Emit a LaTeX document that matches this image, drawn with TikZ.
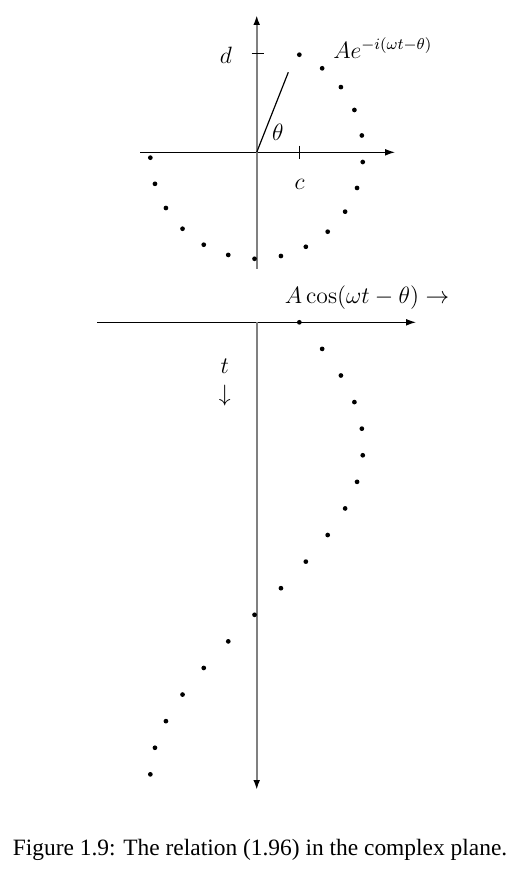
\documentclass[12pt,tikz,border=0pt]{standalone}
\usepackage{fontspec}
\newfontfamily\capfont{Liberation Serif}
\usetikzlibrary{arrows.meta}
\begin{document}
\begin{tikzpicture}[x=0.508pt,y=-0.508pt,
  haxis/.style={line width=0.6pt,-{Latex[length=5pt,width=3.4pt]}},
  vaxis/.style={line width=1pt,draw=black!50,-{Latex[length=5pt,width=3.4pt,color=black]}},
  tick/.style={line width=0.5pt},
  dotnode/.style={circle,fill=black,inner sep=0pt,minimum size=2.4pt},
  lbl/.style={inner sep=0pt}]
\useasboundingbox (0,0) rectangle (520,890);
% ---------- top: complex plane ----------
\coordinate (O1) at (256.7,152.3);
\coordinate (hL1) at (140,152.3);
\coordinate (hR1) at (395,152.3);
\coordinate (vB1) at (256.7,268.5);
\coordinate (vT1) at (256.7,15);
\draw[haxis] (hL1) -- (hR1);
\draw[vaxis] (vB1) -- (vT1);
\coordinate (ct1) at (299.3,145.7);
\coordinate (ct2) at (299.3,158.5);
\draw[tick] (ct1) -- (ct2);
\coordinate (dt1) at (251.5,53.3);
\coordinate (dt2) at (263.5,53.3);
\draw[tick] (dt1) -- (dt2);
\coordinate (Lend) at (288.3,72.3);
\draw[line width=0.6pt] (O1) -- (Lend);
\node[lbl] (dlab) at (226,55.5) {$d$};
\node[lbl] (clab) at (299.5,184.7) {$c$};
\node[lbl] (thlab) at (277.8,132.5) {$\theta$};
\node[lbl,anchor=base west] (elab) at (333,58.3) {$Ae^{-i(\omega t-\theta)}$};
\foreach \k in {0,...,17}{
  \pgfmathsetmacro{\a}{66.4-14.324*\k}
  \node[dotnode] (c\k) at ({256.7+106.5*cos(\a)},{152.3-106.5*sin(\a)}) {};
}
% ---------- bottom: time plot ----------
\coordinate (O2) at (256.7,322.3);
\coordinate (hL2) at (97.3,322.3);
\coordinate (hR2) at (416,322.3);
\coordinate (vB2) at (256.7,790);
\draw[haxis] (hL2) -- (hR2);
\draw[vaxis] (O2) -- (vB2);
\node[lbl,anchor=base west] (alab) at (284.5,303.3) {$A\cos(\omega t-\theta)\rightarrow$};
\node[lbl] (tlab) at (224.7,366.7) {$t$};
\node[lbl] (arlab) at (224.7,396) {$\downarrow$};
\foreach \k in {0,...,17}{
  \pgfmathsetmacro{\a}{66.4-14.324*\k}
  \node[dotnode] (b\k) at ({256.7+106.5*cos(\a)},{322.3+26.59*\k}) {};
}
% ---------- caption ----------
\node[lbl,anchor=base] (cap) at (260,855) {\capfont\fontsize{11.9}{14}\selectfont Figure 1.9: The relation (1.96) in the complex plane.};
\end{tikzpicture}
\end{document}
